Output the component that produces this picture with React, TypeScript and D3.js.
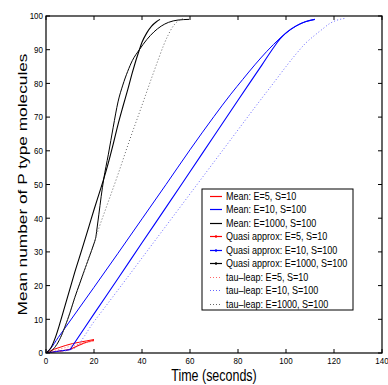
import React from 'react';
import * as d3 from 'd3';

// [time (s), mean number of P]
const meanE5 = [[0,0],[2,0.7],[5,1.5],[8,2.2],[11,2.8],[14,3.2],[17,3.6],[20,4.0]];
const meanE10 = [[0,0],[2,1.4],[5,4.5],[10,9.5],[20,19.5],[30,29.6],[40,39.8],[50,50],[60,60.3],[70,70.2],[77,76.8],[82,81.2],[87,85.5],[92,89.5],[97.5,93.4],[102,96],[107,98],[112,99]];
const meanE1000 = [[0,0],[2,0.5],[4,2],[6,4.5],[8,8],[10,12],[12,16.5],[14,20.5],[16,24.5],[18,28.5],[20,32.5],[20.5,33.6],[20.8,34.5],[21.1,36.1],[22,41],[23,46.5],[24,51.4],[26,59],[28,67],[30,74.5],[32,79.5],[34,83.5],[36,86.8],[38.9,90],[42,93],[45,95.3],[48,97],[51,98.1],[55,98.8],[59.6,99]];

const quasiE5 = [[0,0],[5,0.5],[10,1.1],[10.6,1.3],[11,1.4],[13,2.1],[15,2.7],[17,3.2],[20,3.8]];
const quasiE10 = [[0,0],[5,0.5],[9.6,0.95],[10,1],[10.4,1.42],[12,3.1],[20,11.6],[30,22.1],[40,32.7],[50,43.2],[60,53.8],[70,64.4],[80,75],[90,85.5],[95,90.8],[97.5,93.2],[100,95],[104,97],[108,98.3],[112,99]];
const quasiE1000 = [[0,0],[2,1.5],[4,4.8],[6,9.3],[8,14.2],[10,19.1],[12,24],[15,30.8],[18,37.8],[20,42.5],[22,47],[24,51.5],[26,56.5],[28,62],[30,67.8],[32,73],[34,78],[36,83.3],[38.9,90],[40,92.2],[42,95],[44,97],[46,98.3],[47.5,99]];

const tauE5 = [[0,0],[4,0.8],[8,1.6],[12,2.3],[16,3.0],[20,3.5]];
const tauE10 = [[0,0],[6,0.5],[10,0.9],[13,2],[16,5],[19,8.3],[23.2,12.3],[30,18.7],[40,28.2],[50,37.7],[60,47.2],[70,56.7],[80,66.2],[88,73.8],[95,80.3],[100,85],[104.4,88.9],[108,91.8],[112,94.3],[115,96],[118.3,97.8],[121,98.7],[124.6,99.3]];
const tauE1000 = [[0,0],[2,0.5],[4,2],[6,4.5],[8,8],[10,12],[12,16.5],[14,20.5],[16,24.5],[18,28.5],[20,32.5],[20.5,33.6],[20.8,34.5],[21.2,35.3],[22,37],[25,43],[30,53],[35,63.5],[40,73.5],[44.7,83],[47,87.5],[49,91.3],[51,94.5],[53,97],[55,98.5],[57,99.2]];

const legendLabels = [
  'Mean: E=5, S=10',
  'Mean: E=10, S=100',
  'Mean: E=1000, S=100',
  'Quasi approx: E=5, S=10',
  'Quasi approx: E=10, S=100',
  'Quasi approx: E=1000, S=100',
  'tau\u2013leap: E=5, S=10',
  'tau\u2013leap: E=10, S=100',
  'tau\u2013leap: E=1000, S=100',
];
const xTicks = [0, 20, 40, 60, 80, 100, 120, 140];
const yTicks = [0, 10, 20, 30, 40, 50, 60, 70, 80, 90, 100];

const series = [
  { data: meanE5, color: '#ff0000', kind: 'mean' },
  { data: meanE10, color: '#0000ff', kind: 'mean' },
  { data: meanE1000, color: '#000000', kind: 'mean' },
  { data: quasiE5, color: '#ff0000', kind: 'quasi' },
  { data: quasiE10, color: '#0000ff', kind: 'quasi' },
  { data: quasiE1000, color: '#000000', kind: 'quasi' },
  { data: tauE5, color: '#ff6666', kind: 'tau' },
  { data: tauE10, color: '#6666ff', kind: 'tau' },
  { data: tauE1000, color: '#666666', kind: 'tau' },
];

const FONT = 'Liberation Sans, Arial, Helvetica, sans-serif';
const SQ = 0.8; // the figure is squeezed horizontally

function SText({ x, y, size, sx = SQ, anchor = 'start', rotate = false, children }) {
  const t = rotate
    ? `translate(${x},${y}) rotate(-90) scale(1,${sx})`
    : `translate(${x},${y}) scale(${sx},1)`;
  return (
    <text transform={t} fontSize={size} fontFamily={FONT} textAnchor={anchor} fill="#000">
      {children}
    </text>
  );
}

export default function App() {
  const W = 388, H = 385;
  const m = { left: 46, right: 382, top: 16, bottom: 353 };
  const x = d3.scaleLinear().domain([0, 140]).range([m.left, m.right]);
  const y = d3.scaleLinear().domain([0, 100]).range([m.bottom, m.top]);
  const line = d3.line().x((d) => x(d[0])).y((d) => y(d[1])).curve(d3.curveMonotoneX);
  const tk = 4;

  const lg = { x0: 202, y0: 189, x1: 353, y1: 310, row: 13.5 };

  return (
    <svg width={W} height={H} style={{ position: 'absolute', left: 0, top: 0, background: '#fff' }}>
      <rect x={0} y={0} width={W} height={H} fill="#fff" />
      <defs>
        <clipPath id="plot">
          <rect x={m.left} y={m.top - 2} width={m.right - m.left} height={m.bottom - m.top + 2} />
        </clipPath>
      </defs>

      {/* curves */}
      <g clipPath="url(#plot)" fill="none">
        {series.map((s, i) => (
          <path
            key={i}
            d={line(s.data)}
            stroke={s.color}
            strokeWidth={s.kind === 'tau' ? 1 : s.kind === 'quasi' ? 1.1 : 1}
            strokeDasharray={s.kind === 'tau' ? '1 2.2' : null}
          />
        ))}
      </g>

      {/* frame and ticks */}
      <rect x={m.left} y={m.top} width={m.right - m.left} height={m.bottom - m.top} fill="none" stroke="#000" strokeWidth={1.2} />
      {xTicks.map((t) => (
        <g key={'x' + t}>
          <line x1={x(t)} x2={x(t)} y1={m.bottom} y2={m.bottom - tk} stroke="#000" />
          <line x1={x(t)} x2={x(t)} y1={m.top} y2={m.top + tk} stroke="#000" />
          <SText x={x(t)} y={364} size={9.3} sx={0.86} anchor="middle">{t}</SText>
        </g>
      ))}
      {yTicks.map((t) => (
        <g key={'y' + t}>
          <line x1={m.left} x2={m.left + tk} y1={y(t)} y2={y(t)} stroke="#000" />
          <line x1={m.right} x2={m.right - tk} y1={y(t)} y2={y(t)} stroke="#000" />
          <SText x={43} y={y(t) + 3.3} size={9.3} sx={0.86} anchor="end">{t}</SText>
        </g>
      ))}

      {/* axis titles */}
      <SText x={(m.left + m.right) / 2} y={381} size={16} sx={0.78} anchor="middle">Time (seconds)</SText>
      <SText x={26.5} y={(m.top + m.bottom) / 2} size={17.3} sx={0.78} anchor="middle" rotate>
        Mean number of P type molecules
      </SText>

      {/* legend */}
      <rect x={lg.x0} y={lg.y0} width={lg.x1 - lg.x0} height={lg.y1 - lg.y0} fill="#fff" stroke="#000" strokeWidth={1} />
      {series.map((s, i) => {
        const cy = Math.round(lg.y0 + 6.5 + i * lg.row) + 0.5;
        return (
          <g key={'l' + i}>
            <line
              x1={210}
              x2={222}
              y1={cy}
              y2={cy}
              stroke={s.color}
              strokeWidth={1.2}
              strokeDasharray={s.kind === 'tau' ? '1 2' : null}
            />
            {s.kind === 'quasi' && <circle cx={216} cy={cy} r={1.2} fill={s.color} />}
            <SText x={226} y={cy + 3.6} size={10.5} sx={0.86}>{legendLabels[i]}</SText>
          </g>
        );
      })}
    </svg>
  );
}
